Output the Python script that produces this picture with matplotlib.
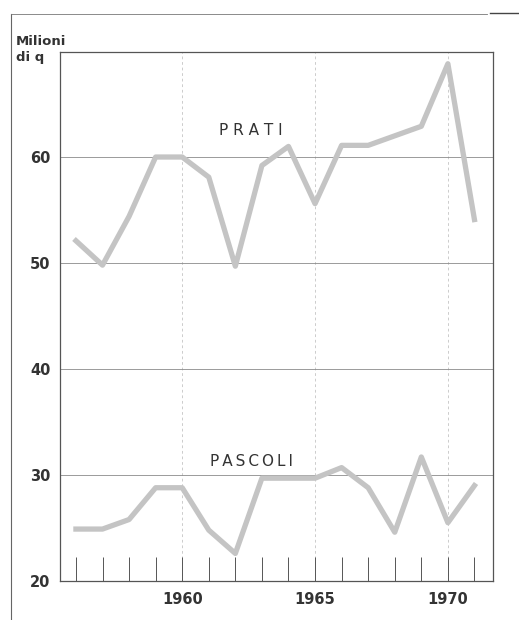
import matplotlib.pyplot as plt
from matplotlib.lines import Line2D
from matplotlib.ticker import FixedLocator

years = list(range(1956, 1972))
prati = [52.1, 49.8, 54.4, 60.0, 60.0, 58.1, 49.7, 59.2, 61.0, 55.6, 61.1, 61.1, 62.0, 62.9, 68.8, 54.1]
pascoli = [24.9, 24.9, 25.8, 28.8, 28.8, 24.8, 22.6, 29.7, 29.7, 29.7, 30.7, 28.8, 24.6, 31.7, 25.5, 29.0]
x_labels = [1960, 1965, 1970]
y_ticks = [20, 30, 40, 50, 60]

line_color = '#c4c4c4'
grid_color = '#8a8a8a'
text_color = '#333333'

fig = plt.figure(figsize=(5.19, 6.20), dpi=100)
ax = fig.add_axes([0.1156, 0.0629, 0.950 - 0.1156, 0.916 - 0.0629])

# grid
for y in y_ticks[1:]:
    ax.axhline(y, color=grid_color, lw=0.6, zorder=1)
for x in x_labels:
    ax.axvline(x, color=grid_color, lw=0.5, ls=(0, (4, 4)), alpha=0.6, zorder=1)

ax.plot(years, prati, color=line_color, lw=3.8, solid_joinstyle='round', zorder=3)
ax.plot(years, pascoli, color=line_color, lw=3.8, solid_joinstyle='round', zorder=3)

ax.text(1962.6, 62.5, 'P R A T I', ha='center', va='center', fontsize=11,
        color=text_color)
ax.text(1962.6, 31.3, '\u2009'.join('PASCOLI'), ha='center', va='center', fontsize=11,
        color=text_color)

ax.set_xlim(1955.4, 1971.7)
ax.set_ylim(20, 69.9)

ax.yaxis.set_major_locator(FixedLocator(y_ticks))
ax.tick_params(axis='y', length=0, pad=7, labelsize=10.5, labelcolor=text_color)
for lab in ax.get_yticklabels():
    lab.set_fontweight('bold')

ax.xaxis.set_major_locator(FixedLocator(x_labels))
ax.xaxis.set_minor_locator(FixedLocator(years))
ax.tick_params(axis='x', which='major', direction='in', length=17, width=0.7,
               color='#555555', pad=8, labelsize=10.5, labelcolor=text_color)
ax.tick_params(axis='x', which='minor', direction='in', length=17, width=0.7, color='#555555')
for lab in ax.get_xticklabels():
    lab.set_fontweight('bold')

for sp in ax.spines.values():
    sp.set_color('#555555')
    sp.set_linewidth(0.9)

fig.text(16 / 519, 1 - 49.5 / 620, 'Milioni\ndi q', ha='left', va='center', fontsize=9.5,
         fontweight='bold', color=text_color, linespacing=1.25)

# scanned page frame
fig.add_artist(Line2D([11 / 519, 11 / 519], [0, 1 - 14 / 620], color='#666666', lw=0.8))
fig.add_artist(Line2D([11 / 519, 487 / 519], [1 - 14 / 620, 1 - 14 / 620], color='#777777', lw=0.6))
fig.add_artist(Line2D([490 / 519, 1], [1 - 13 / 620, 1 - 13 / 620], color='#444444', lw=1.0))

fig.savefig('out.png', dpi=100, facecolor='white')
